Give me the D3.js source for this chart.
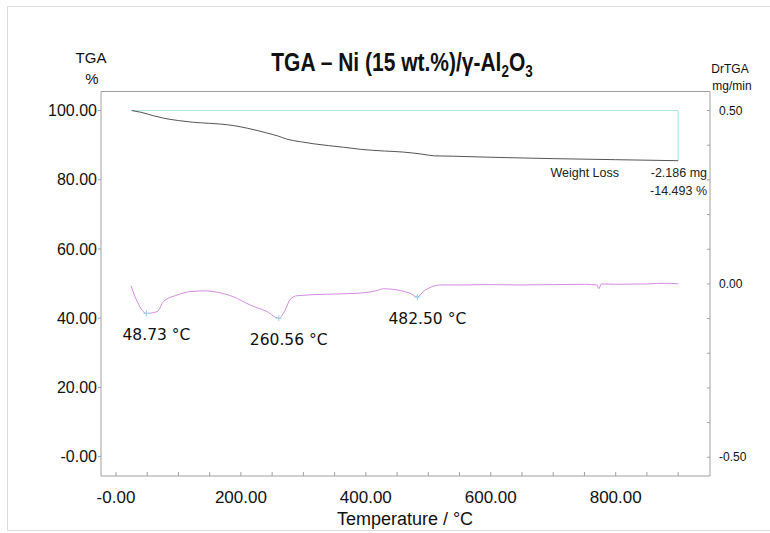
<!DOCTYPE html>
<html>
<head>
<meta charset="utf-8">
<script src="https://cdn.jsdelivr.net/npm/d3@7"></script>
<style>
  body { margin: 0; background: #fff; }
  svg { display: block; font-family: "Liberation Sans", Arial, sans-serif; }
</style>
</head>
<body>
<div id="chart"></div>
<script>
// TGA curve (weight %)
var tgaTemp = [25, 40, 60, 76, 100, 124, 150, 167, 190, 210, 242, 260, 274, 295, 316, 364, 391, 430, 460, 490, 510, 540, 600, 700, 800, 900];
var tgaWeight = [100.0, 99.5, 98.5, 97.8, 97.1, 96.6, 96.3, 96.1, 95.6, 94.9, 93.5, 92.6, 91.7, 91.0, 90.4, 89.4, 88.8, 88.3, 88.0, 87.4, 86.9, 86.8, 86.5, 86.1, 85.8, 85.5];

// DrTGA curve (mg/min)
var dtgTemp = [24, 34, 48.7, 66, 76, 98, 119, 146, 162, 188, 215, 242, 260.6, 271, 279, 290, 332, 386, 418, 428, 455, 471, 482.5, 492, 506, 519, 550, 600, 650, 700, 750, 770, 773, 777, 800, 850, 880, 900];
var dtgRate = [-0.005, -0.051, -0.085, -0.080, -0.051, -0.032, -0.022, -0.020, -0.024, -0.037, -0.061, -0.080, -0.099, -0.075, -0.044, -0.034, -0.030, -0.027, -0.019, -0.014, -0.019, -0.027, -0.038, -0.022, -0.008, -0.003, -0.003, -0.002, -0.003, -0.002, -0.001, -0.003, -0.014, 0.000, -0.001, 0.000, 0.002, 0.000];

// peaks marked on the DrTGA curve
var peakTemp = [48.73, 260.56, 482.50];
var peakRate = [-0.085, -0.099, -0.038];
var peakLabels = ['48.73 °C', '260.56 °C', '482.50 °C'];

// weight loss step
var lossStart = 25;
var lossEnd = 900;
var lossFrom = 100.0;
var lossTo = 85.507;
var lossLabels = ['-2.186 mg', '-14.493 %'];

// axes
var xTicks = [0, 200, 400, 600, 800];
var xTickLabels = ['-0.00', '200.00', '400.00', '600.00', '800.00'];
var yTicks = [0, 20, 40, 60, 80, 100];
var yTickLabels = ['-0.00', '20.00', '40.00', '60.00', '80.00', '100.00'];
var y2Ticks = [-0.5, 0, 0.5];
var y2TickLabels = ['-0.50', '0.00', '0.50'];

var W = 770, H = 533;
var plot = { left: 101, right: 710, top: 91.5, bottom: 476 };
var axisColor = '#a0a0a0';

var svg = d3.select('#chart').append('svg')
  .attr('width', W)
  .attr('height', H);

// outer frame of the picture
svg.append('rect')
  .attr('x', 7.5).attr('y', 6.5)
  .attr('width', 800).attr('height', 524)
  .attr('fill', 'none')
  .attr('stroke', '#dcdcdc');

var x = d3.scaleLinear().domain([-24, 951]).range([plot.left, plot.right]);
var y = d3.scaleLinear().domain([-5.6, 105.5]).range([plot.bottom, plot.top]);
var y2 = d3.scaleLinear().domain([-0.554, 0.555]).range([plot.bottom, plot.top]);

// frame lines
var frame = svg.append('g').attr('stroke', axisColor).attr('fill', 'none');
frame.append('path')
  .attr('d', 'M' + plot.left + ',' + plot.bottom + 'V' + plot.top + 'H' + plot.right + 'V' + plot.bottom + 'H' + plot.left);

// bottom axis, ticks every 50 pointing inward
var xAxis = svg.append('g');
xAxis.selectAll('line')
  .data(d3.range(0, 901, 50))
  .join('line')
  .attr('x1', function (d) { return x(d); })
  .attr('x2', function (d) { return x(d); })
  .attr('y1', plot.bottom)
  .attr('y2', plot.bottom - 4)
  .attr('stroke', axisColor);
xAxis.selectAll('text')
  .data(xTicks)
  .join('text')
  .attr('x', function (d) { return x(d); })
  .attr('y', plot.bottom + 27)
  .attr('text-anchor', 'middle')
  .attr('font-size', 17)
  .attr('fill', '#111')
  .text(function (d, i) { return xTickLabels[i]; });

svg.append('text')
  .attr('x', 405).attr('y', 525)
  .attr('text-anchor', 'middle')
  .attr('font-size', 18)
  .attr('fill', '#111')
  .text('Temperature / °C');

// left axis
var yAxis = svg.append('g');
yAxis.selectAll('line')
  .data(yTicks)
  .join('line')
  .attr('x1', plot.left - 3)
  .attr('x2', plot.left)
  .attr('y1', function (d) { return y(d); })
  .attr('y2', function (d) { return y(d); })
  .attr('stroke', axisColor);
yAxis.selectAll('text')
  .data(yTicks)
  .join('text')
  .attr('x', plot.left - 4)
  .attr('y', function (d) { return y(d); })
  .attr('dy', '0.35em')
  .attr('text-anchor', 'end')
  .attr('font-size', 16)
  .attr('fill', '#111')
  .text(function (d, i) { return yTickLabels[i]; });

svg.append('text').attr('x', 91).attr('y', 63)
  .attr('text-anchor', 'middle').attr('font-size', 15).attr('fill', '#111').text('TGA');
svg.append('text').attr('x', 92).attr('y', 84)
  .attr('text-anchor', 'middle').attr('font-size', 15).attr('fill', '#111').text('%');

// right axis, ticks every 0.1 pointing inward
var y2Axis = svg.append('g');
y2Axis.selectAll('line')
  .data(d3.range(-5, 6).map(function (d) { return d / 10; }))
  .join('line')
  .attr('x1', plot.right - 3)
  .attr('x2', plot.right)
  .attr('y1', function (d) { return y2(d); })
  .attr('y2', function (d) { return y2(d); })
  .attr('stroke', axisColor);
y2Axis.selectAll('text')
  .data(y2Ticks)
  .join('text')
  .attr('x', plot.right + 9)
  .attr('y', function (d) { return y2(d); })
  .attr('dy', '0.35em')
  .attr('font-size', 12)
  .attr('fill', '#111')
  .text(function (d, i) { return y2TickLabels[i]; });

svg.append('text').attr('x', 730).attr('y', 73)
  .attr('text-anchor', 'middle').attr('font-size', 12).attr('fill', '#111').text('DrTGA');
svg.append('text').attr('x', 732).attr('y', 90)
  .attr('text-anchor', 'middle').attr('font-size', 12).attr('fill', '#111').text('mg/min');

// title with subscripts, a bit condensed like the original
var title = svg.append('text')
  .attr('text-anchor', 'middle')
  .attr('transform', 'translate(402,71) scale(0.84,1)')
  .attr('font-size', 25)
  .attr('font-weight', 'bold')
  .attr('fill', '#111');
title.append('tspan').text('TGA – Ni (15 wt.%)/γ-Al');
title.append('tspan').attr('font-size', 16).attr('dy', 6).text('2');
title.append('tspan').attr('dy', -6).text('O');
title.append('tspan').attr('font-size', 16).attr('dy', 6).text('3');

// weight loss step box
svg.append('path')
  .attr('d', 'M' + x(lossStart) + ',' + y(lossFrom) + 'H' + x(lossEnd) + 'V' + y(lossTo))
  .attr('fill', 'none')
  .attr('stroke', '#a8e4ec');

// TGA line
var tgaLine = d3.line()
  .x(function (d, i) { return x(tgaTemp[i]); })
  .y(function (d) { return y(d); })
  .curve(d3.curveMonotoneX);
svg.append('path')
  .attr('d', tgaLine(tgaWeight))
  .attr('fill', 'none')
  .attr('stroke', '#555')
  .attr('stroke-width', 1);

// DrTGA line
var dtgLine = d3.line()
  .x(function (d, i) { return x(dtgTemp[i]); })
  .y(function (d) { return y2(d); })
  .curve(d3.curveMonotoneX);
svg.append('path')
  .attr('d', dtgLine(dtgRate))
  .attr('fill', 'none')
  .attr('stroke', '#d38ce0')
  .attr('stroke-width', 1);

// peak markers and labels
var peaks = svg.append('g');
peakTemp.forEach(function (t, i) {
  var px = x(t), py = y2(peakRate[i]);
  peaks.append('path')
    .attr('d', 'M' + (px - 3) + ',' + py + 'H' + (px + 3) + 'M' + px + ',' + (py - 3) + 'V' + (py + 3))
    .attr('stroke', '#8fd8e8');
  peaks.append('text')
    .attr('x', px + 10)
    .attr('y', py + 21)
    .attr('dy', '0.35em')
    .attr('text-anchor', 'middle')
    .attr('font-family', '"DejaVu Sans", sans-serif')
    .attr('font-size', 15.5)
    .attr('fill', '#111')
    .text(peakLabels[i]);
});

// weight loss texts
svg.append('text').attr('x', 619).attr('y', 177)
  .attr('text-anchor', 'end').attr('font-size', 12.5).attr('fill', '#222').text('Weight Loss');
svg.append('text').attr('x', 707).attr('y', 177)
  .attr('text-anchor', 'end').attr('font-size', 12.5).attr('fill', '#222').text(lossLabels[0]);
svg.append('text').attr('x', 707).attr('y', 195)
  .attr('text-anchor', 'end').attr('font-size', 12.5).attr('fill', '#222').text(lossLabels[1]);
</script>
</body>
</html>
